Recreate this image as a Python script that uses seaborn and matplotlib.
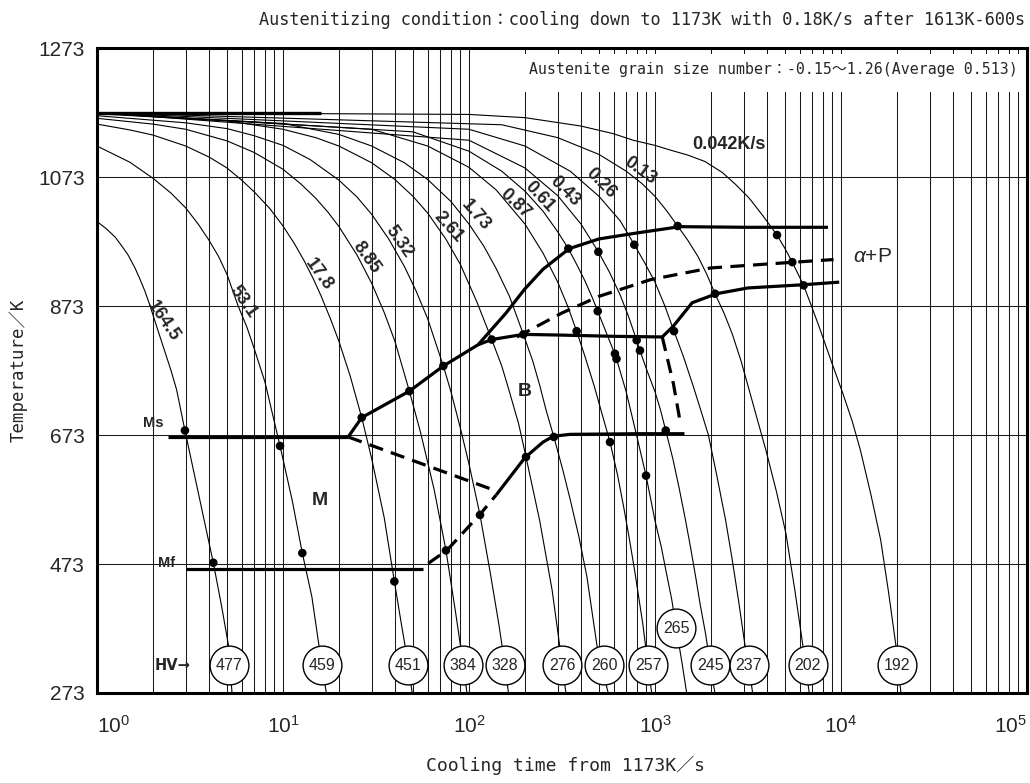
import numpy as np
import pandas as pd
import matplotlib
matplotlib.use("Agg")
import matplotlib.pyplot as plt
import seaborn as sns
from matplotlib.patches import Rectangle
from matplotlib import font_manager

# ---------------- data ----------------
rate_labels = ["164.5", "53.1", "17.8", "8.85", "5.32", "2.61", "1.73",
               "0.87", "0.61", "0.43", "0.26", "0.13", "0.042K/s"]

t_164_5 = [1.0, 1.12, 1.25, 1.36, 1.47, 1.6, 1.7, 1.81, 1.92, 2.1, 2.3, 2.5, 2.68, 2.97,
           3.36, 3.8, 4.22, 4.68, 5.09, 5.32]
T_164_5 = [1004, 993, 980, 966, 952, 932, 915, 896, 875, 840, 805, 773, 743, 680,
           608, 536, 475, 407, 347, 273]
t_53_1 = [1, 1.5, 2, 2.5, 3, 3.5, 4, 4.5, 5, 5.74, 6.4, 7, 8, 9.64, 11.2, 12.7, 14.3, 15.6, 17.1]
T_53_1 = [1121, 1096, 1071, 1048, 1025, 1000, 975, 950, 922, 873, 840, 807, 755, 656, 572,
          490, 422, 347, 273]
t_17_8 = [1, 1.5, 2, 3, 4, 5, 6, 7, 8.5, 10, 11.5, 13, 14.5, 16, 18, 20, 23, 26.5, 30, 35,
          39.7, 43, 47.2, 49.5]
T_17_8 = [1155, 1146, 1138, 1121, 1104, 1087, 1068, 1050, 1024, 997, 970, 943, 916, 889, 853,
          818, 764, 700, 636, 545, 446, 385, 316, 273]
t_8_85 = [1, 2, 3, 5, 7, 10, 12.5, 15, 17.5, 20, 25, 30, 35, 40, 47.8, 55, 65, 75.2, 85,
          93.2, 97.5]
T_8_85 = [1164, 1155, 1147, 1129, 1111, 1085, 1062, 1040, 1018, 996, 952, 908, 863, 818, 741,
          676, 588, 494, 395, 316, 273]
t_5_32 = [1, 3, 5, 7, 10, 14, 20, 25, 30, 37, 45, 52, 60, 66, 72.8, 80, 90, 100, 114.6, 130,
          145, 156, 163]
T_5_32 = [1168, 1157, 1148, 1137, 1122, 1100, 1068, 1042, 1015, 977, 934, 896, 853, 817, 780,
          740, 683, 628, 549, 460, 378, 316, 273]
t_2_61 = [1, 5, 10, 15, 20, 30, 40, 50, 60, 75, 90, 110, 132.5, 150, 165, 185, 202.5, 240,
          280, 317.5, 332]
T_2_61 = [1171, 1160, 1147, 1134, 1121, 1095, 1069, 1043, 1017, 977, 937, 880, 821, 780, 740,
          690, 639, 540, 432, 316, 273]
t_1_73 = [1, 10, 20, 30, 45, 60, 80, 100, 120, 140, 165, 196, 220, 240, 260, 286, 320, 350,
          390, 430, 488, 560]
T_1_73 = [1172, 1156, 1139, 1121, 1095, 1069, 1035, 1000, 966, 931, 888, 829, 788, 750, 711,
          670, 618, 573, 515, 454, 346, 273]
t_0_87 = [1, 30, 60, 100, 140, 200, 250, 300, 340, 379, 420, 470, 520, 573, 630, 680, 730,
          780, 860, 917, 960]
T_0_87 = [1172, 1147, 1121, 1088, 1053, 1000, 955, 910, 872, 834, 795, 750, 705, 662, 610,
          560, 510, 460, 380, 316, 273]
t_0_61 = [1, 50, 100, 150, 200, 250, 300, 342, 380, 420, 460, 492, 550, 615, 700, 800, 895,
          1000, 1080, 1150, 1230, 1300, 1400, 1480]
T_0_61 = [1173, 1143, 1113, 1082, 1051, 1020, 988, 962, 937, 912, 886, 865, 830, 795, 740,
          670, 610, 540, 500, 460, 418, 374, 318, 273]
t_0_43 = [1, 100, 200, 300, 400, 496, 570, 650, 720, 797, 830, 900, 1000, 1070, 1142, 1250,
          1350, 1450, 1550, 1650, 1750, 1870, 1982, 2100]
T_0_43 = [1173, 1130, 1087, 1044, 1000, 957, 925, 890, 857, 820, 804, 775, 740, 712, 680, 635,
          590, 545, 500, 455, 410, 365, 316, 273]
t_0_26 = [1, 100, 200, 350, 500, 650, 774, 880, 1000, 1130, 1265, 1420, 1600, 1760, 1937,
          2150, 2400, 2600, 2800, 3050, 3186, 3350]
T_0_26 = [1173, 1147, 1121, 1082, 1043, 1005, 968, 940, 910, 873, 834, 795, 750, 712, 673,
          610, 540, 480, 420, 346, 316, 273]
t_0_13 = [1, 150, 300, 500, 700, 850, 1000, 1160, 1324, 1500, 1700, 1900, 2102, 2350, 2600,
          2900, 3200, 3550, 3943, 4500, 5060, 5650, 6250, 6500, 6750]
T_0_13 = [1173, 1154, 1134, 1108, 1082, 1063, 1043, 1020, 997, 975, 950, 922, 892, 862, 830,
          788, 744, 697, 650, 585, 520, 432, 345, 308, 273]
t_0_042 = [1, 100, 200, 400, 600, 762, 1000, 1200, 1500, 1858, 2300, 2700, 3214, 3800, 4530,
           5000, 5470, 6295, 7000, 7690, 8800, 10300, 11500, 12700, 14500, 16350, 18000,
           19770, 21000]
T_0_042 = [1173, 1170, 1165, 1152, 1140, 1130, 1122, 1115, 1107, 1097, 1080, 1062, 1040, 1013,
           983, 962, 941, 905, 870, 838, 790, 735, 694, 650, 580, 510, 430, 345, 273]

curve_times = [t_164_5, t_53_1, t_17_8, t_8_85, t_5_32, t_2_61, t_1_73,
               t_0_87, t_0_61, t_0_43, t_0_26, t_0_13, t_0_042]
curve_temps = [T_164_5, T_53_1, T_17_8, T_8_85, T_5_32, T_2_61, T_1_73,
               T_0_87, T_0_61, T_0_43, T_0_26, T_0_13, T_0_042]

# curve label positions (time, temp, rotation)
label_time = [2.26, 6.12, 15.6, 28.2, 42.0, 77.4, 109, 177, 239, 328, 513, 830, 2484]
label_temp = [850, 880, 921, 948, 972, 995, 1014, 1031, 1043, 1051, 1064, 1083, 1123]
label_rot = [-56, -55, -54, -54, -55, -48, -49, -43, -47, -45, -45, -36, 0]

# hardness values (HV) at the end of each cooling curve
hv_values = [477, 459, 451, 384, 328, 276, 260, 257, 265, 245, 237, 202, 192]
hv_time = [5.14, 16.3, 47.2, 93.2, 156, 317.5, 535, 917, 1300, 1982, 3186, 6630, 20080]
hv_temp = [316, 316, 316, 316, 316, 316, 316, 316, 373.5, 316, 316, 316, 316]

# transformation points
dot_time = [2.97, 4.22, 9.64, 12.7, 26.5, 39.7, 47.8, 75.2, 72.8, 114.6, 132.5, 202.5,
            196, 286, 379, 573, 342, 492, 609, 621, 895, 496, 797, 830, 1142, 774,
            1265, 1324, 2102, 4530, 5470, 6295]
dot_temp = [680, 475, 656, 490, 700, 446, 741, 494, 780, 549, 821, 639,
            829, 670, 834, 662, 962, 865, 799, 791, 610, 957, 820, 804, 680, 968,
            834, 997, 892, 983, 941, 905]

start_temp = 1173
bundle_time = [1, 16]

ms_temp = 670
ms_time = [2.4, 22.4]
mf_temp = 466
mf_time = [3.0, 56.4]

# bainite start (from Ms end) -> horizontal
bs_time = [22.4, 26.5, 47.8, 72.8, 112, 132.5, 196, 300, 600, 1094]
bs_temp = [670, 700, 741, 780, 813, 821, 829, 828, 826, 825]
# pearlite finish rise
pf_time = [1094, 1257, 1583, 2137, 3162, 6310, 9780]
pf_temp = [825, 842, 878, 892, 901, 906, 910]
# ferrite start
fs_time = [112, 158, 199, 250, 346, 500, 790, 1360, 3163, 8510]
fs_temp = [813, 862, 899, 930, 962, 977, 986, 996, 995, 995]
# pearlite start (dashed)
ps_time = [181, 315, 500, 951, 1992, 5015, 9120]
ps_temp = [825, 862, 888, 914, 932, 940, 945]
# dashed drop
dd_time = [1094, 1257, 1372]
dd_temp = [825, 752, 690]
# bainite finish
bf_dash_time = [60.4, 75.9, 114.6, 140]
bf_dash_temp = [474, 494, 550, 580]
bf_time = [140, 200, 250, 284, 349, 800, 1440]
bf_temp = [580, 638, 662, 671, 674, 675, 675]
# martensite dashed
md_time = [22.4, 141]
md_temp = [670, 586]

x_tick_values = [1, 10, 100, 1000, 1e4, 1e5]
x_tick_labels = [r"$10^{0}$", r"$10^{1}$", r"$10^{2}$", r"$10^{3}$", r"$10^{4}$", r"$10^{5}$"]
y_tick_values = [273, 473, 673, 873, 1073, 1273]
y_minor_values = [373, 573, 773, 973, 1173]

# ---------------- style ----------------
sns.set_style("white")
avail = {f.name for f in font_manager.fontManager.ttflist}
sans = "Liberation Sans" if "Liberation Sans" in avail else "DejaVu Sans"
plt.rcParams["font.family"] = [sans, "DejaVu Sans"]
plt.rcParams["mathtext.fontset"] = "custom"
plt.rcParams["mathtext.rm"] = sans
plt.rcParams["mathtext.it"] = sans + ":italic"
plt.rcParams["mathtext.bf"] = sans + ":bold"
mono = ["DejaVu Sans Mono", "Noto Sans CJK JP"]

fig = plt.figure(figsize=(10.30, 7.83), dpi=100)
ax = fig.add_axes([97 / 1030, 1 - 693 / 783, 930 / 1030, 645 / 783])
ax.set_xscale("log")
ax.set_xlim(1, 1e5)
ax.set_ylim(273, 1273)

# ticks / grid
ax.set_yticks(y_tick_values)
ax.set_yticks(y_minor_values, minor=True)
ax.set_yticklabels([str(v) for v in y_tick_values], fontsize=15)
ax.set_xticks(x_tick_values)
ax.set_xticklabels(x_tick_labels, fontsize=15)
xl = ax.get_xticklabels()
xl[0].set_horizontalalignment("left")
xl[-1].set_horizontalalignment("right")
minor_x = [m * 10 ** d for d in range(5) for m in range(2, 10)]
ax.set_xticks(minor_x, minor=True)
ax.xaxis.set_minor_formatter(plt.NullFormatter())
ax.xaxis.grid(True, which="both", color="#1a1a1a", lw=0.75)
ax.yaxis.grid(True, which="major", color="#1a1a1a", lw=0.75)
ax.tick_params(axis="x", which="both", length=0, pad=16)
ax.tick_params(axis="y", which="major", length=0, pad=9)
ax.tick_params(axis="y", which="minor", length=5, width=1, direction="in", color="black")
for s in ax.spines.values():
    s.set_linewidth(2.2)
    s.set_color("black")
    s.set_zorder(10)

# white box behind grain size text
ax.add_patch(Rectangle((0.403, 0.932), 0.597, 0.058, transform=ax.transAxes,
                       facecolor="white", edgecolor="none", zorder=2.5))
ax.text(0.99, 0.966, "Austenite grain size number：-0.15～1.26(Average 0.513)",
        transform=ax.transAxes, ha="right", va="center", fontsize=10.7,
        family=mono, zorder=3)

# cooling curves
rows = []
for lab, tt, TT in zip(rate_labels, curve_times, curve_temps):
    rows.append(pd.DataFrame({"time": tt, "temp": TT, "curve": lab}))
df = pd.concat(rows, ignore_index=True)
sns.lineplot(data=df, x="time", y="temp", units="curve", estimator=None, sort=False,
             color="black", linewidth=0.8, ax=ax, legend=False)
ax.plot(bundle_time, [start_temp, start_temp], color="black", lw=2.4, solid_capstyle="butt")

# transformation lines
thick = dict(color="black", lw=2.3, solid_capstyle="butt", zorder=3)
dashed = dict(color="black", lw=2.3, dashes=(4.5, 2.6), zorder=3)
ax.plot(ms_time, [ms_temp, ms_temp], **thick)
ax.plot(mf_time, [mf_temp, mf_temp], **thick)
ax.plot(bs_time, bs_temp, **thick)
ax.plot(pf_time, pf_temp, **thick)
ax.plot(fs_time, fs_temp, **thick)
ax.plot(bf_time, bf_temp, **thick)
ax.plot(ps_time, ps_temp, **dashed)
ax.plot(dd_time, dd_temp, **dashed)
ax.plot(bf_dash_time, bf_dash_temp, **dashed)
ax.plot(md_time, md_temp, **dashed)

sns.scatterplot(x=dot_time, y=dot_temp, color="black", s=38, edgecolor="none",
                ax=ax, zorder=4, legend=False)

# HV circles
ax.scatter(hv_time, hv_temp, s=780, facecolor="white", edgecolor="black", lw=1.0, zorder=5)
for v, tt, TT in zip(hv_values, hv_time, hv_temp):
    ax.text(tt, TT, str(v), ha="center", va="center", fontsize=11.5, zorder=6)

# curve labels
for lab, tt, TT, r in zip(rate_labels, label_time, label_temp, label_rot):
    ax.text(tt, TT, lab, rotation=r, rotation_mode="anchor", ha="center", va="center",
            fontsize=13, fontweight="bold", zorder=4)

# region labels
ax.text(2.0, 692, "Ms", ha="center", va="center", fontsize=10.5, fontweight="bold")
ax.text(2.38, 475, "Mf", ha="center", va="center", fontsize=10.5, fontweight="bold")
ax.text(2.56, 316, "HV→", ha="center", va="center", fontsize=10.5, fontweight="bold",
        family=["DejaVu Sans"])
ax.text(15.8, 572, "M", ha="center", va="center", fontsize=14, fontweight="bold")
ax.text(200, 740, "B", ha="center", va="center", fontsize=14, fontweight="bold")
ax.text(14680, 950, r"$\it{\alpha}$+P", ha="center", va="center", fontsize=15)

ax.set_xlabel("")
ax.set_ylabel("")
fig.text(18 / 1030, 1 - 370 / 783, "Temperature／K", rotation=90, ha="center", va="center",
         fontsize=12.5, family=mono)
fig.text(565 / 1030, 1 - 765 / 783, "Cooling time from 1173K／s", ha="center", va="center",
         fontsize=13, family=mono)
fig.text(1025 / 1030, 1 - 20 / 783,
         "Austenitizing condition：cooling down to 1173K with 0.18K/s after 1613K-600s",
         ha="right", va="center", fontsize=12.2, family=mono)

fig.savefig("out.png", dpi=100, facecolor="white")
